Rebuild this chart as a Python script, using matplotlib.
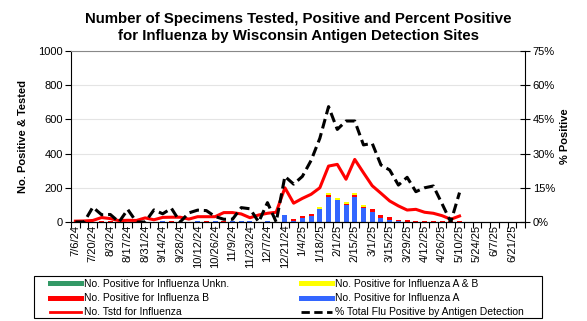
import numpy as np
import matplotlib
matplotlib.use("Agg")
import matplotlib.pyplot as plt
from matplotlib.lines import Line2D
from matplotlib.patches import Rectangle
from matplotlib.ticker import FuncFormatter

plt.rcParams['font.family'] = ['Liberation Sans', 'DejaVu Sans']

# settimane (52), dati solo fino a 5/10/25
n_weeks = 52
tick_labels = ['7/6/24', '7/20/24', '8/3/24', '8/17/24', '8/31/24', '9/14/24',
               '9/28/24', '10/12/24', '10/26/24', '11/9/24', '11/23/24', '12/7/24',
               '12/21/24', '1/4/25', '1/18/25', '2/1/25', '2/15/25', '3/1/25',
               '3/15/25', '3/29/25', '4/12/25', '4/26/25', '5/10/25', '5/24/25',
               '6/7/25', '6/21/25']

tested = [5, 6, 9, 26, 20, 8, 10, 9, 24, 13, 27, 28, 28, 17, 31, 31, 31, 55, 55, 47,
          25, 41, 51, 57, 200, 110, 138, 162, 200, 327, 337, 250, 366, 288, 212, 168,
          123, 94, 70, 74, 57, 51, 37, 16, 35]
pos_a = [0, 0, 0, 0, 0, 0, 0, 0, 0, 0, 3, 0, 0, 0, 3, 0, 3, 0, 3, 3,
         3, 0, 4, 0, 41, 5, 25, 37, 76, 146, 129, 101, 146, 84, 58, 25,
         14, 4, 2, 0, 0, 0, 0, 0, 0]
pos_b = [0, 0, 0, 3, 3, 0, 0, 0, 0, 0, 0, 3, 0, 0, 0, 3, 0, 3, 0, 0,
         0, 0, 0, 0, 0, 12, 10, 10, 0, 12, 0, 6, 12, 6, 18, 16,
         16, 8, 10, 8, 8, 8, 8, 6, 4]
pos_ab = [0] * 28 + [12, 10, 12, 10, 10, 10] + [0] * 11
pos_unk = [0] * 45
pct = [0, 0, 6.5, 3.2, 3.3, 0, 5.5, 0, 0, 5.3, 3.6, 6.0, 0, 4.0, 5.2, 5.0, 2.4, 1.2, 1.2, 6.3,
       5.8, 0, 8.5, 0, 20.0, 16.6, 20.0, 27.0, 36.7, 50.6, 40.6, 44.3, 44.3, 33.8, 34.5, 25.0,
       22.8, 16.2, 19.6, 13.3, 15.0, 15.8, 8.0, 0, 12.9]

x = np.arange(len(tested))
a = np.array(pos_a)
b = np.array(pos_b)
ab = np.array(pos_ab)
unk = np.array(pos_unk)

W, H = 587, 321
fig = plt.figure(figsize=(W / 100, H / 100), dpi=100)
ax = fig.add_axes([71/W, 1 - 222/H, 454/W, 171/H])

w = 0.57
ax.bar(x, a, w, color='#3366FF', zorder=2)
ax.bar(x, b, w, bottom=a, color='#FF0000', zorder=2)
ax.bar(x, ab, w, bottom=a + b, color='#FFFF00', zorder=2)
ax.bar(x, unk, w, bottom=a + b + ab, color='#339966', zorder=2)
ax.plot(x, tested, color='#FF0000', lw=2.2, zorder=3)

ax.set_xlim(-0.5, n_weeks - 0.5)
ax.set_ylim(0, 1000)
ax.set_yticks(np.arange(0, 1001, 200))
ax.grid(axis='y', color='#e4e4e4', lw=0.8, zorder=0)
ax.set_axisbelow(True)
ax.tick_params(axis='y', labelsize=8, length=4, pad=2)
ax.set_ylabel('No. Positive & Tested', fontsize=8, fontweight='bold', labelpad=7)

# tacche tra le settimane, etichette ogni 2 settimane
ax.set_xticks(np.arange(-0.5, n_weeks, 1))
ax.set_xticklabels([])
ax.tick_params(axis='x', which='major', length=4, width=0.8)
ax.set_xticks(np.arange(0, n_weeks, 2), minor=True)
ax.set_xticklabels(tick_labels, minor=True, rotation=90, fontsize=8)
ax.tick_params(axis='x', which='minor', length=0, pad=2)

ax.spines['top'].set_color('#888888')
ax.spines['right'].set_visible(False)

ax2 = ax.twinx()
ax2.plot(x, np.array(pct) / 100, color='black', lw=2.2, ls=(0, (3.2, 1.6)), zorder=4)
ax2.set_ylim(0, 0.75)
ax2.set_yticks(np.arange(0, 0.76, 0.15))
ax2.yaxis.set_major_formatter(FuncFormatter(lambda v, p: f'{v*100:.0f}%'))
ax2.tick_params(axis='y', labelsize=8, length=7, direction='inout', pad=2)
ax2.set_ylabel('% Positive', fontsize=8, fontweight='bold', labelpad=4)
ax2.spines['top'].set_visible(False)
ax2.spines['left'].set_visible(False)

fig.text(0.508, 0.962, 'Number of Specimens Tested, Positive and Percent Positive\n'
         'for Influenza by Wisconsin Antigen Detection Sites',
         ha='center', va='top', fontsize=10.8, fontweight='bold', linespacing=1.3)

# legenda con cornice disegnata a parte
fig.patches.append(Rectangle((34/W, 1 - 318/H), 508/W, 42/H, transform=fig.transFigure,
                             fill=False, edgecolor='black', lw=0.8))
handles = [
    Line2D([], [], color='#339966', lw=3.6),
    Line2D([], [], color='#FF0000', lw=3.6),
    Line2D([], [], color='#FF0000', lw=2),
    Line2D([], [], color='#FFFF00', lw=3.6),
    Line2D([], [], color='#3366FF', lw=3.6),
    Line2D([], [], color='black', lw=2, ls=(0, (3, 1.6))),
]
labels = ['No. Positive for Influenza Unkn.', 'No. Positive for Influenza B',
          'No. Tstd for Influenza', 'No. Positive for Influenza A & B',
          'No. Positive for Influenza A', '% Total Flu Positive by Antigen Detection']
leg = fig.legend(handles, labels, ncol=2, loc='upper left',
                 bbox_to_anchor=(50/W, 1 - 279/H), fontsize=7.5, frameon=False,
                 handlelength=3.0, handletextpad=0.25, columnspacing=6.9,
                 labelspacing=0.4, borderpad=0.0, borderaxespad=0.0)

fig.savefig('out.png', dpi=100)
